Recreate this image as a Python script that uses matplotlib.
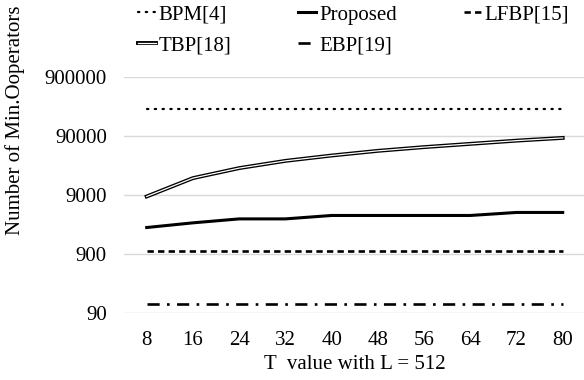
import matplotlib.pyplot as plt
from matplotlib import patheffects as pe

plt.rcParams['font.family'] = ['Liberation Serif', 'DejaVu Serif']
plt.rcParams['font.size'] = 15

# T values (L = 512)
t_vals = [8, 16, 24, 32, 40, 48, 56, 64, 72, 80]
bpm = [262144] * 10
proposed = [2560, 3072, 3584, 3584, 4096, 4096, 4096, 4096, 4608, 4608]
lfbp = [1024] * 10
tbp = [8600, 17600, 26000, 34500, 42500, 51000, 59000, 67000, 76000, 84500]
ebp = [128] * 10

y_ticks = [90, 900, 9000, 90000, 900000]

fig = plt.figure(figsize=(5.84, 3.8), dpi=100)
ax = fig.add_axes([123.6 / 584, (380 - 313.3) / 380, (585.8 - 123.6) / 584, (313.3 - 77.3) / 380])

l_bpm, = ax.plot(t_vals, bpm, color='black', lw=1.6, linestyle=(0, (0.6, 2.9)),
                 dash_capstyle='round', label='BPM[4]')
l_prop, = ax.plot(t_vals, proposed, color='black', lw=2.2, label='Proposed')
l_lfbp, = ax.plot(t_vals, lfbp, color='black', lw=1.9, linestyle=(0, (2.4, 1.6)),
                  label='LFBP[15]')
l_tbp, = ax.plot(t_vals, tbp, color='white', lw=0.9, label='TBP[18]',
                 path_effects=[pe.Stroke(linewidth=2.8, foreground='black'), pe.Normal()])
l_ebp, = ax.plot(t_vals, ebp, color='black', lw=1.9, linestyle=(0, (4.6, 2.8, 1.0, 2.8)),
                 label='EBP[19]')

ax.set_yscale('log')
ax.set_ylim(90, 900000)
ax.set_xlim(4, 84)
ax.set_yticks(y_ticks)
ax.set_yticklabels([str(v) for v in y_ticks])
ax.yaxis.set_minor_locator(plt.NullLocator())
ax.set_xticks(t_vals)
ax.set_xticklabels([str(v) for v in t_vals])
ax.tick_params(axis='y', length=0, pad=12)
ax.tick_params(axis='x', length=0, pad=13)
ax.grid(axis='y', color='#d9d9d9', lw=1.0)
ax.set_axisbelow(True)
for s in ax.spines.values():
    s.set_visible(False)

ax.set_xlabel('T  value with L = 512', labelpad=3)
fig.text(15 / 584, 1 - 120 / 380, 'Number of Min.Ooperators', rotation=90,
         ha='center', va='center')

handles = [l_bpm, l_tbp, l_prop, l_ebp, l_lfbp]
fig.legend(handles=handles, labels=[h.get_label() for h in handles], ncol=3,
           loc='upper left', bbox_to_anchor=(138 / 584, 0.987), frameon=False,
           handlelength=0.85, handletextpad=0.15, columnspacing=3.2,
           labelspacing=0.55, borderaxespad=0.0, borderpad=0.0)

fig.savefig('out.png', dpi=100)
